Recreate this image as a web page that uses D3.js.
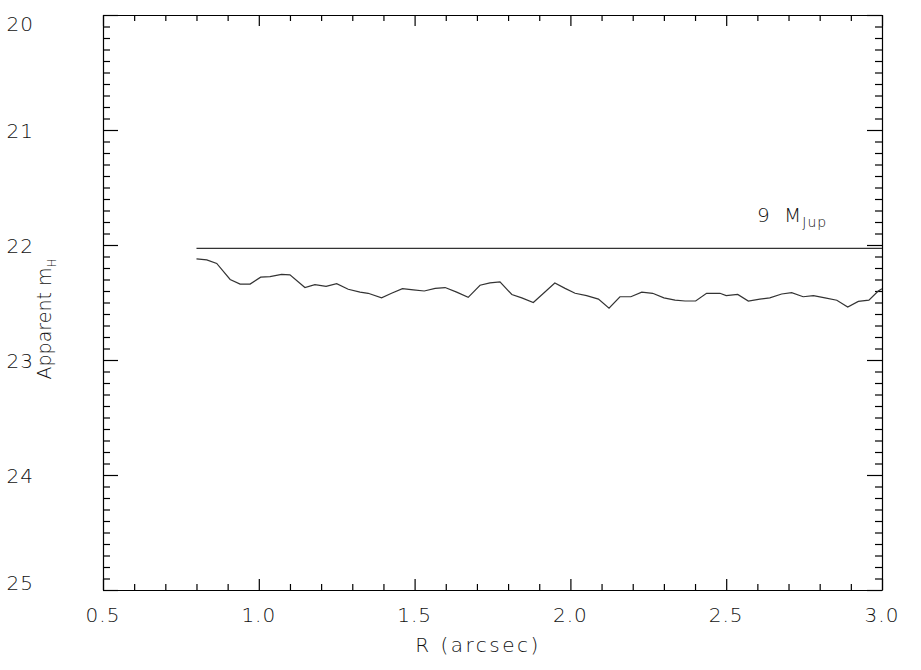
<!DOCTYPE html>
<html><head><meta charset="utf-8">
<script src="https://cdn.jsdelivr.net/npm/d3@7"></script>
<style>
body{margin:0;background:#fff;}
text{font-family:"DejaVu Sans","Liberation Sans",Arial,sans-serif;font-weight:200;fill:#111;}
</style></head>
<body><svg id="c" width="921" height="670"></svg>
<script>
// Data
const xTicks = [0.5, 1.0, 1.5, 2.0, 2.5, 3.0];
const xTickLabels = ["0.5", "1.0", "1.5", "2.0", "2.5", "3.0"];
const yTicks = [20, 21, 22, 23, 24, 25];
const yTickLabels = ["20", "21", "22", "23", "24", "25"];
const radius = [0.80,0.833,0.865,0.908,0.94,0.972,1.006,1.036,1.073,1.10,1.148,1.18,1.216,1.25,1.287,1.325,1.351,1.394,1.426,1.461,1.496,1.531,1.566,1.598,1.635,1.672,1.71,1.742,1.774,1.812,1.844,1.881,1.95,1.983,2.015,2.052,2.09,2.124,2.159,2.194,2.229,2.264,2.30,2.336,2.368,2.402,2.437,2.48,2.50,2.537,2.571,2.608,2.64,2.678,2.71,2.747,2.78,2.817,2.855,2.89,2.924,2.958,2.988,3.0];
const mag = [22.12,22.13,22.16,22.30,22.34,22.34,22.28,22.275,22.255,22.26,22.37,22.345,22.36,22.336,22.385,22.41,22.42,22.46,22.42,22.38,22.39,22.40,22.377,22.37,22.41,22.455,22.35,22.33,22.32,22.43,22.46,22.50,22.33,22.377,22.42,22.44,22.47,22.55,22.45,22.45,22.41,22.42,22.46,22.48,22.487,22.487,22.42,22.42,22.44,22.43,22.487,22.47,22.46,22.426,22.415,22.45,22.44,22.46,22.48,22.54,22.49,22.48,22.40,22.38];
const massLimitX = [0.80, 3.0];
const massLimitY = [22.03, 22.03];
const massLabel = "9";

const svg = d3.select("#c");
const L = 103, R = 882, T = 15, B = 590;
const x = d3.scaleLinear().domain([0.5, 3.0]).range([L, R]);
const y = d3.scaleLinear().domain([20, 25]).range([T, B]);

const xMinor = d3.range(5, 31).map(d => d / 10).filter(d => !xTicks.some(t => Math.abs(t - d) < 1e-6));
const yMinor = d3.range(200, 251).map(d => d / 10).filter(d => !yTicks.some(t => Math.abs(t - d) < 1e-6));

function styleAxis(g) {
  g.select(".domain").attr("stroke", "#000").attr("stroke-width", 1.2);
  g.selectAll(".tick line").attr("stroke", "#000").attr("stroke-width", 1.2);
}
function minorStyle(g) {
  g.select(".domain").remove();
  g.selectAll("line").attr("stroke", "#000").attr("stroke-width", 1.2);
}

// bottom axis (ticks inward)
styleAxis(svg.append("g").attr("transform", `translate(0,${B})`)
  .call(d3.axisBottom(x).tickValues(xTicks).tickSizeInner(-11).tickSizeOuter(0).tickFormat("")));
svg.append("g").attr("transform", `translate(0,${B})`)
  .call(d3.axisBottom(x).tickValues(xMinor).tickSizeInner(-6).tickSizeOuter(0).tickFormat("")).call(minorStyle);
// top axis
styleAxis(svg.append("g").attr("transform", `translate(0,${T})`)
  .call(d3.axisTop(x).tickValues(xTicks).tickSizeInner(-11).tickSizeOuter(0).tickFormat("")));
svg.append("g").attr("transform", `translate(0,${T})`)
  .call(d3.axisTop(x).tickValues(xMinor).tickSizeInner(-6).tickSizeOuter(0).tickFormat("")).call(minorStyle);
// left axis
styleAxis(svg.append("g").attr("transform", `translate(${L},0)`)
  .call(d3.axisLeft(y).tickValues(yTicks).tickSizeInner(-15).tickSizeOuter(0).tickFormat("")));
svg.append("g").attr("transform", `translate(${L},0)`)
  .call(d3.axisLeft(y).tickValues(yMinor).tickSizeInner(-7).tickSizeOuter(0).tickFormat("")).call(minorStyle);
// right axis
styleAxis(svg.append("g").attr("transform", `translate(${R},0)`)
  .call(d3.axisRight(y).tickValues(yTicks).tickSizeInner(-15).tickSizeOuter(0).tickFormat("")));
svg.append("g").attr("transform", `translate(${R},0)`)
  .call(d3.axisRight(y).tickValues(yMinor).tickSizeInner(-7).tickSizeOuter(0).tickFormat("")).call(minorStyle);

// tick labels
svg.append("g").selectAll("text").data(xTicks).join("text")
  .attr("x", d => x(d)).attr("y", 622)
  .attr("text-anchor", "middle").attr("font-size", 20).attr("letter-spacing", 1)
  .text((d, i) => xTickLabels[i]);
svg.append("g").selectAll("text").data(yTicks).join("text")
  .attr("x", 34)
  .attr("y", (d, i) => i === 0 ? y(d) + 16 : (i === yTicks.length - 1 ? y(d) : y(d) + 8))
  .attr("text-anchor", "end").attr("font-size", 20).attr("letter-spacing", 1)
  .text((d, i) => yTickLabels[i]);

// axis titles
svg.append("text").attr("x", 478).attr("y", 652).attr("text-anchor", "middle")
  .attr("font-size", 20).attr("letter-spacing", 2.5).text("R (arcsec)");
const yt = svg.append("text").attr("transform", "translate(51,319) rotate(-90)")
  .attr("text-anchor", "middle").attr("font-size", 19).attr("letter-spacing", 0);
yt.append("tspan").text("Apparent m");
yt.append("tspan").attr("font-size", 12).attr("dy", 5).text("H");

// mass limit line
svg.append("path")
  .datum(massLimitX.map((d, i) => [d, massLimitY[i]]))
  .attr("fill", "none").attr("stroke", "#333").attr("stroke-width", 1.3)
  .attr("d", d3.line().x(d => x(d[0])).y(d => y(d[1])));
const ml = svg.append("text").attr("x", 757).attr("y", 222).attr("font-size", 20).attr("letter-spacing", 1);
ml.append("tspan").text(massLabel);
ml.append("tspan").attr("x", 784).text("M");
ml.append("tspan").attr("font-size", 14).attr("dy", 5).text("Jup");

// contrast curve
svg.append("path")
  .datum(radius.map((d, i) => [d, mag[i]]))
  .attr("fill", "none").attr("stroke", "#333").attr("stroke-width", 1.2)
  .attr("d", d3.line().x(d => x(d[0])).y(d => y(d[1])));
</script></body></html>
